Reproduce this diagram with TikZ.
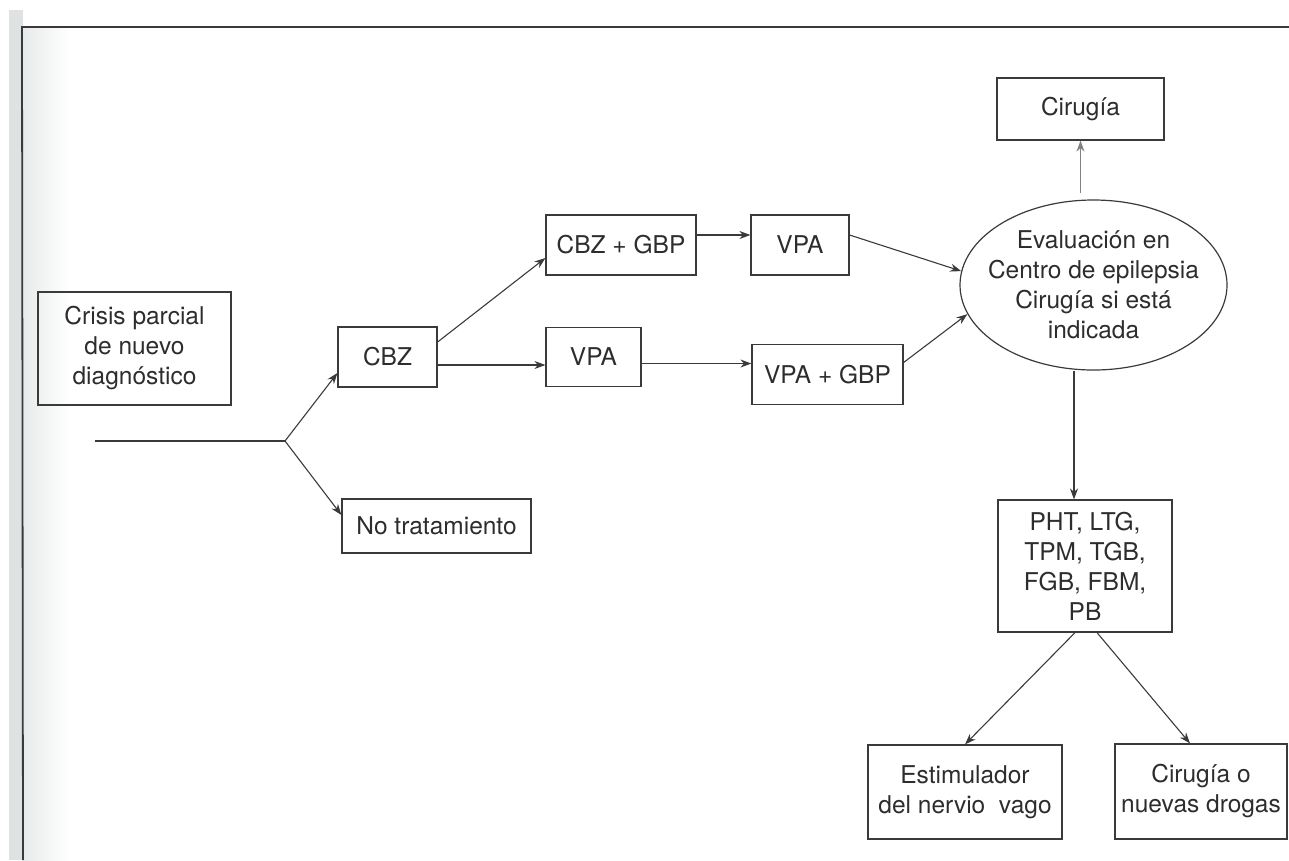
\documentclass[tikz,border=0pt]{standalone}
\usepackage{fontspec}
\setmainfont{TeX Gyre Heros}
\usetikzlibrary{positioning,arrows.meta,shapes.geometric}
\definecolor{LineGray}{RGB}{58,58,58}
\definecolor{TextGray}{RGB}{45,45,45}
\definecolor{PaleGray}{RGB}{130,130,130}
\definecolor{ScanGray}{RGB}{222,226,226}
\tikzset{
  drugbox/.style={
    draw=LineGray,
    line width=1.2pt,
    text=TextGray,
    inner sep=0pt,
    align=center,
    font=\fontsize{24.5}{30}\selectfont
  },
  evalbox/.style={
    ellipse,
    draw=LineGray,
    line width=1.2pt,
    text=TextGray,
    inner xsep=-20pt,
    inner ysep=0pt,
    minimum width=267pt,
    minimum height=170pt,
    align=center,
    font=\fontsize{24.5}{30}\selectfont
  },
  arrow/.style={-{Stealth[length=11pt,width=8pt]},line width=1.1pt,draw=LineGray}
}

\begin{document}
\begin{tikzpicture}[x=1pt,y=-1pt,on grid]
    \useasboundingbox (0,0) rectangle (1289,860);
    % borde del escaneo y marco
    \fill[ScanGray] (9,10) rectangle (23,860);
    \shade[left color=ScanGray!70,right color=white] (23,27) rectangle (70,860);
    \draw[LineGray,line width=1.8pt] (1289,27) -- (22,27) -- (23,860);

    \node[drugbox,minimum width=193pt,minimum height=113pt] (crisis) at (134.5,348.5) {Crisis parcial\\de nuevo\\diagnóstico};
    \coordinate[below left=92.5pt and 39.5pt of crisis] (start);
    \coordinate[below right=92.5pt and 150.5pt of crisis] (split);
    \node[drugbox,minimum width=99pt,minimum height=60pt,below right=8.5pt and 253pt of crisis] (cbz) {CBZ};
    \node[drugbox,minimum width=189pt,minimum height=54pt,below right=177.5pt and 302pt of crisis] (notrat) {No tratamiento};
    \node[drugbox,minimum width=150pt,minimum height=60pt,above right=112pt and 233.5pt of cbz] (cbzgbp) {CBZ + GBP};
    \node[drugbox,minimum width=98pt,minimum height=60pt,right=179pt of cbzgbp] (vpaup) {VPA};
    \node[drugbox,minimum width=95pt,minimum height=59pt,right=206pt of cbz] (vpalow) {VPA};
    \node[drugbox,minimum width=151pt,minimum height=60pt,below right=17.5pt and 234pt of vpalow] (vpagbp) {VPA + GBP};
    \node[evalbox,below right=40pt and 293.5pt of vpaup] (eval) {Evaluación en\\Centro de epilepsia\\Cirugía si está\\indicada};
    \node[drugbox,minimum width=167pt,minimum height=62pt,above left=176pt and 13pt of eval] (cirugia) {Cirugía};
    \node[drugbox,minimum width=174pt,minimum height=132pt,below left=281pt and 8.5pt of eval] (pht) {PHT, LTG,\\TPM, TGB,\\FGB, FBM,\\PB};
    \node[drugbox,minimum width=194pt,minimum height=94pt,below left=226pt and 120pt of pht] (estim) {Estimulador\\del nervio\ \ vago};
    \node[drugbox,minimum width=172pt,minimum height=95pt,below right=225.5pt and 116pt of pht] (nuevas) {Cirugía o\\nuevas drogas};

    \draw[LineGray,line width=1.1pt] (start) -- (split);
    \draw[arrow] (split) -- ([yshift=-16pt]cbz.west);
    \draw[arrow] (split) -- ([yshift=11pt]notrat.west);
    \draw[arrow] ([yshift=15pt]cbz.east) -- ([yshift=-13pt]cbzgbp.west);
    \draw[arrow] ([yshift=-8pt]cbz.east) -- ([yshift=-8pt]cbz.east -| vpalow.west);
    \draw[arrow] ([yshift=10pt]cbzgbp.east) -- ([yshift=10pt]cbzgbp.east -| vpaup.west);
    \draw[arrow] ([yshift=-6.5pt]vpalow.east) -- ([yshift=-6.5pt]vpalow.east -| vpagbp.west);
    \draw[arrow] ([yshift=10pt]vpaup.east) -- (eval.174);
    \draw[arrow] ([yshift=12pt]vpagbp.east) -- (eval.193);
    \draw[arrow,draw=PaleGray,shorten <=6pt] (cirugia.south |- eval.north) -- (cirugia.south);
    \draw[arrow] ([xshift=-11pt]pht.north |- eval.south) -- ([xshift=-11pt]pht.north);
    \draw[arrow] ([xshift=-10pt]pht.south) -- (estim.north);
    \draw[arrow] ([xshift=12pt]pht.south) -- ([xshift=-11pt]nuevas.north);
\end{tikzpicture}
\end{document}
